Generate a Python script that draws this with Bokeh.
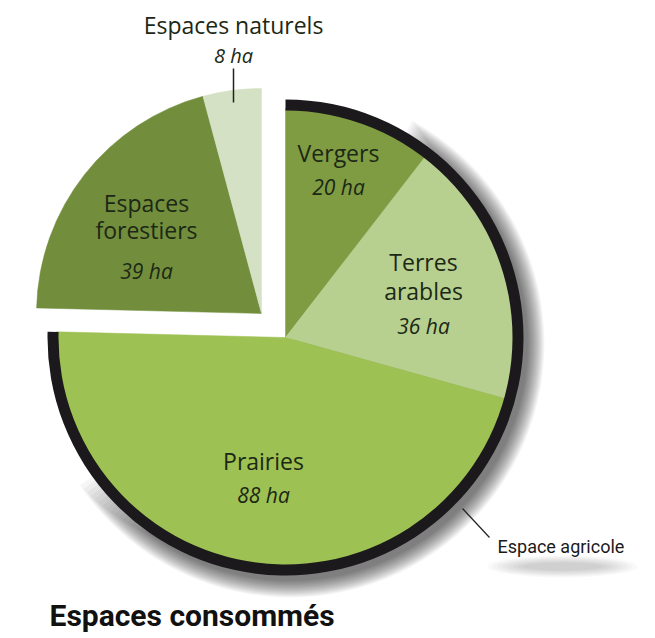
import math
from bokeh.plotting import figure
from bokeh.models import Range1d
from bokeh.core.properties import value
from bokeh.embed import file_html
from bokeh.resources import INLINE

# ---------------- data ----------------
categories = ["Vergers", "Terres arables", "Prairies", "Espaces forestiers", "Espaces naturels"]
hectares = [20, 36, 88, 39, 8]
label_lines = [["Vergers"], ["Terres", "arables"], ["Prairies"], ["Espaces", "forestiers"], ["Espaces naturels"]]
is_agricole = [True, True, True, False, False]
group_label = "Espace agricole"
title_text = "Espaces consommés"
unit = "ha"

# ---------------- style ----------------
colors = ["#7f9c43", "#b7d08f", "#9ec153", "#728e3c", "#d4e1c4"]
TXT = "#1c2815"
FONT = "Open Sans"
NARROW = "Roboto"

W, H = 655, 638
p = figure(width=W, height=H, x_range=Range1d(0, W), y_range=Range1d(0, H),
           output_backend="svg", toolbar_location=None, min_border=0)
p.axis.visible = False
p.grid.visible = False
p.outline_line_color = None
p.background_fill_color = "white"
p.border_fill_color = "white"


def Y(ry):
    return H - ry


CX, CY = 285, Y(337)
R_AGRI = 229
R_RING_IN, R_RING_OUT = 227, 238
R_OTHER = 225
EX, EY = -24, 24

total = sum(hectares)
starts, ends = [], []
cum = 0
for v in hectares:
    starts.append(math.pi / 2 - 2 * math.pi * cum / total)
    cum += v
    ends.append(math.pi / 2 - 2 * math.pi * cum / total)

agri_idx = [i for i, a in enumerate(is_agricole) if a]
agri_start = starts[agri_idx[0]]
agri_end = ends[agri_idx[-1]]

# ---------------- shadow behind agricultural ring ----------------
for k in range(18):
    p.wedge(x=CX + 5, y=CY - 6, radius=R_RING_OUT + 16 - k,
            start_angle=agri_start - 0.5 - 0.01 * k, end_angle=-2.55 + 0.02 * k,
            direction="clock", fill_color="black", fill_alpha=0.035, line_color=None)

# ---------------- slices ----------------
for i in range(len(hectares)):
    if is_agricole[i]:
        cx, cy, r = CX, CY, R_AGRI
    else:
        cx, cy, r = CX + EX, CY + EY, R_OTHER
    p.wedge(x=cx, y=cy, radius=r, start_angle=starts[i], end_angle=ends[i],
            direction="clock", fill_color=colors[i], line_color=colors[i], line_width=0.5)

# black ring around the agricultural group
p.annular_wedge(x=CX, y=CY, inner_radius=R_RING_IN, outer_radius=R_RING_OUT,
                start_angle=agri_start, end_angle=agri_end, direction="clock",
                fill_color="#1b191b", line_color=None)

# ---------------- labels ----------------
def txt(x, ry, s, size, style="normal", font=FONT, color=TXT, align="center", baseline="middle"):
    p.text(x=[x], y=[Y(ry)], text=[s], text_font=value(font), text_font_size=size,
           text_font_style=style, text_color=color, text_align=align, text_baseline=baseline)

label_pos = [
    (338, [152], 186),
    (423, [261, 290], 325),
    (263, [460], 494),
    (146, [202, 229], 270),
]
for i, (x, rys, vy) in enumerate(label_pos):
    for line, ry in zip(label_lines[i], rys):
        txt(x, ry, line, "23px")
    txt(x, vy, f"{hectares[i]} {unit}", "21px", style="italic")

# Espaces naturels label outside
txt(233, 24, label_lines[4][0], "23px")
txt(233, 55, f"{hectares[4]} {unit}", "20px", style="italic")
p.line(x=[233, 233], y=[Y(68), Y(102)], line_color="#222222", line_width=1.5)

# Espace agricole leader + label
for k in range(8):
    p.ellipse(x=562, y=Y(566), width=150 - 10 * k, height=22 - 2 * k,
              fill_color="black", fill_alpha=0.025, line_color=None)
p.line(x=[462, 489], y=[Y(508), Y(537)], line_color="#222222", line_width=1.2)
txt(497, 546, group_label, "18px", font=NARROW, color="#1a1a1a", align="left")

# title
txt(49, 615, title_text, "30px", style="bold", font=NARROW, color="#111111", align="left")

open("out.html", "w").write(file_html(p, INLINE))
